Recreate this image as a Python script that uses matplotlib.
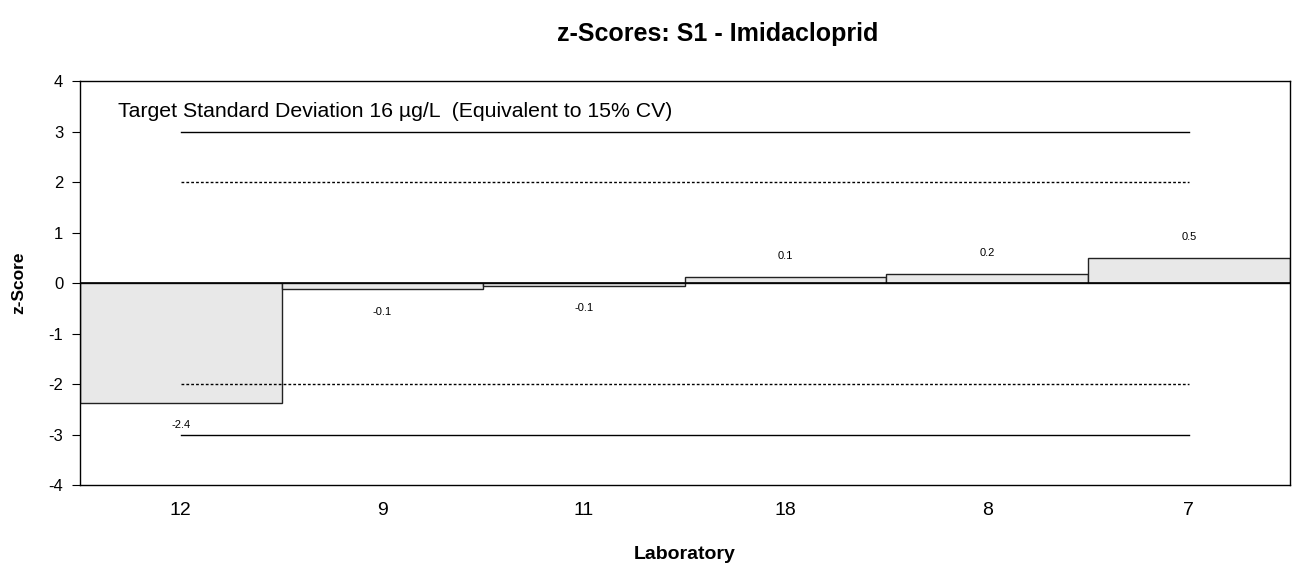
import numpy as np
import matplotlib
matplotlib.use("Agg")
import matplotlib.pyplot as plt

plt.rcParams['font.family'] = ['Liberation Sans', 'DejaVu Sans']
plt.rcParams['axes.unicode_minus'] = False

labs = ["12", "9", "11", "18", "8", "7"]
zvals = [-2.37, -0.12, -0.05, 0.12, 0.17, 0.5]
zlabels = ["-2.4", "-0.1", "-0.1", "0.1", "0.2", "0.5"]

fig = plt.figure(figsize=(13, 5.69), dpi=100)
ax = fig.add_axes([0.0615, 0.1476, 0.9305, 0.71])

x = np.arange(len(labs))
ax.bar(x, zvals, width=1.0, color="#e8e8e8", edgecolor="#222222", linewidth=1.0, zorder=2)

# limit lines, from first to last lab centre
ax.plot([x[0], x[-1]], [3, 3], color="black", lw=1, zorder=1)
ax.plot([x[0], x[-1]], [-3, -3], color="black", lw=1, zorder=1)
ax.plot([x[0], x[-1]], [2, 2], color="black", lw=1, ls=(0, (2, 1.5)), zorder=3)
ax.plot([x[0], x[-1]], [-2, -2], color="black", lw=1, ls=(0, (2, 1.5)), zorder=3)
ax.axhline(0, color="black", lw=1.2, zorder=3)

for xi, v, t in zip(x, zvals, zlabels):
    off = 0.42 if v >= 0 else -0.45
    ax.text(xi, v + off, t, ha="center", va="center", fontsize=8)

ax.text(-0.31, 3.4, "Target Standard Deviation 16 µg/L  (Equivalent to 15% CV)",
        fontsize=15.3, ha="left", va="center")

ax.set_xlim(-0.5, len(labs) - 0.5)
ax.set_ylim(-4, 4)
ax.set_yticks(range(-4, 5))
ax.set_xticks(x)
ax.set_xticklabels(labs)
ax.tick_params(axis="x", length=0, labelsize=14, pad=12)
ax.tick_params(axis="y", length=6, labelsize=12, direction="out", pad=6)
for s in ax.spines.values():
    s.set_linewidth(1)

ax.set_xlabel("Laboratory", fontsize=14, fontweight="bold", labelpad=20)
ax.set_ylabel("z-Score", fontsize=12.5, fontweight="bold", labelpad=16)
fig.suptitle("z-Scores: S1 - Imidacloprid", fontsize=18, fontweight="bold", x=0.552, y=0.962)

fig.savefig("out.png", dpi=100)
